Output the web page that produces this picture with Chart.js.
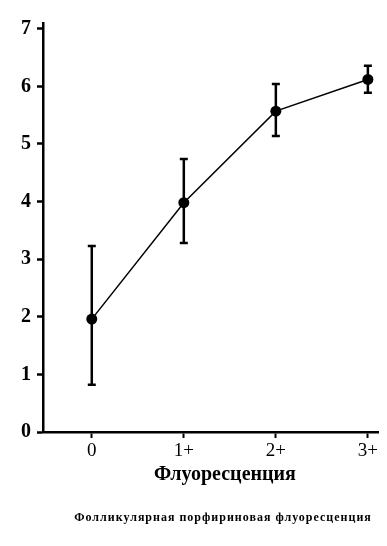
<!DOCTYPE html>
<html>
<head>
<meta charset="utf-8">
<script src="https://cdn.jsdelivr.net/npm/chart.js@4"></script>
<style>
  body { margin: 0; background: #fff; }
  #wrap { position: relative; width: 387px; height: 546px; }
  .lbl { position: absolute; font-family: "Liberation Serif", serif; font-weight: bold; color: #000; white-space: nowrap; transform: translateX(-50%); }
</style>
</head>
<body>
<div id="wrap">
  <canvas id="fluoChart" width="387" height="546"></canvas>
  <div class="lbl" style="left:225px; top:462px; font-size:20px;">Флуоресценция</div>
  <div class="lbl" style="left:223px; top:510px; font-size:12px; letter-spacing:1px;">Фолликулярная порфириновая флуоресценция</div>
</div>
<script>
var xPos = [0, 1, 2, 3];
var xLabels = ['0', '1+', '2+', '3+'];
var means = [1.96, 3.98, 5.57, 6.12];
var lower = [0.82, 3.28, 5.14, 5.89];
var upper = [3.23, 4.74, 6.04, 6.36];

// error bars, drawn through the chart scales
var errorBars = {
    id: 'errorBars',
    afterDatasetsDraw: function (chart) {
        var ctx = chart.ctx;
        var xs = chart.scales.x, ys = chart.scales.y;
        ctx.save();
        ctx.strokeStyle = '#000';
        ctx.lineWidth = 2.5;
        for (var i = 0; i < xPos.length; i++) {
            var x = xs.getPixelForValue(xPos[i]);
            var y1 = ys.getPixelForValue(lower[i]);
            var y2 = ys.getPixelForValue(upper[i]);
            ctx.beginPath();
            ctx.moveTo(x, y1); ctx.lineTo(x, y2);
            ctx.moveTo(x - 4, y1); ctx.lineTo(x + 4, y1);
            ctx.moveTo(x - 4, y2); ctx.lineTo(x + 4, y2);
            ctx.stroke();
        }
        ctx.restore();
    }
};

var ctx = document.getElementById('fluoChart');
var chart = new Chart(ctx, {
    type: 'line',
    data: {
        datasets: [{
            data: xPos.map(function (x, i) { return { x: x, y: means[i] }; }),
            borderColor: '#000',
            backgroundColor: '#000',
            borderWidth: 1.5,
            pointRadius: 5.5,
            pointBackgroundColor: '#000',
            pointBorderWidth: 0,
            tension: 0
        }]
    },
    options: {
        responsive: false,
        animation: false,
        layout: { padding: { top: 23, left: 0, right: 9, bottom: 59 } },
        plugins: { legend: { display: false }, tooltip: { enabled: false } },
        scales: {
            x: {
                type: 'linear',
                min: -0.53,
                max: 3.11,
                afterFit: function (s) { s.height = 55; },
                afterBuildTicks: function (s) { s.ticks = xPos.map(function (v) { return { value: v }; }); },
                ticks: {
                    color: '#000',
                    padding: 2,
                    font: { family: 'Liberation Serif', size: 19 },
                    callback: function (v) { return xLabels[xPos.indexOf(v)]; }
                },
                grid: { drawOnChartArea: false, drawTicks: true, tickLength: 6, tickWidth: 2, color: '#000' },
                border: { color: '#000', width: 2.5 }
            },
            y: {
                min: 0,
                max: 7.1,
                afterFit: function (s) { s.width = 43; },
                ticks: {
                    stepSize: 1,
                    includeBounds: false,
                    color: '#000',
                    padding: 6,
                    font: { family: 'Liberation Serif', size: 20, weight: 'bold' }
                },
                grid: { drawOnChartArea: false, drawTicks: true, tickLength: 6, tickWidth: 2.5, color: '#000' },
                border: { color: '#000', width: 2.5 }
            }
        }
    },
    plugins: [errorBars]
});
</script>
</body>
</html>
